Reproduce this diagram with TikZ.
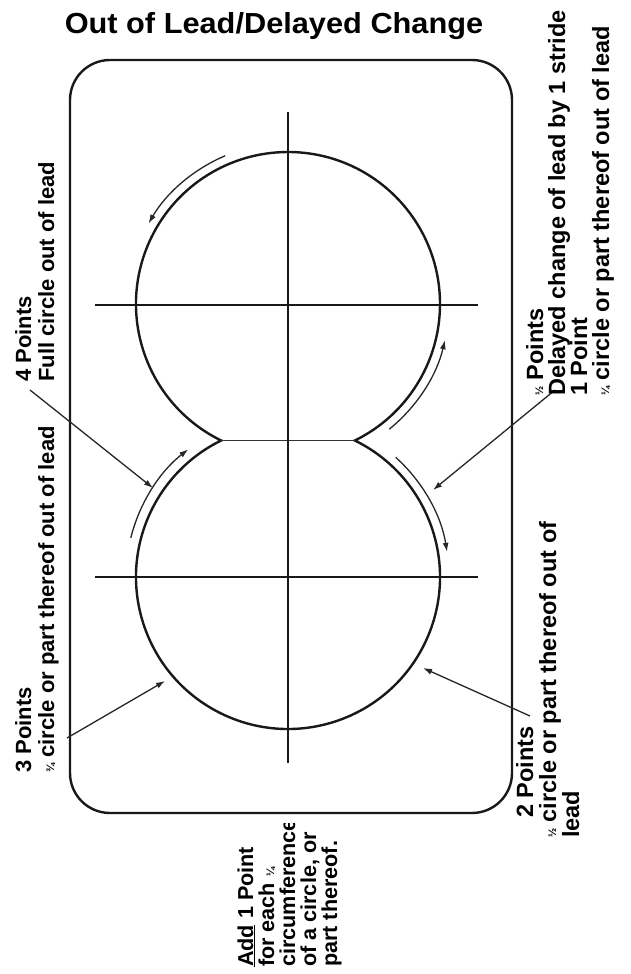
\documentclass[tikz,border=0pt]{standalone}
\usepackage{fontspec}
\setmainfont{Liberation Sans}
\usetikzlibrary{arrows.meta}
\newcommand\fr[1]{{\fontsize{11}{11}\selectfont #1}}
\begin{document}
\begin{tikzpicture}[x=1pt,y=-1pt,
  heavy/.style={line width=2.4pt,draw=black!90},
  light/.style={line width=1.3pt,draw=black!85},
  hair/.style={line width=0.9pt,draw=black!80},
  tipped/.style={-{Latex[length=9pt,width=6pt]}},
  lt/.style={rotate=90,anchor=base west,inner sep=0pt,font=\fontsize{22}{22}\selectfont\bfseries},
  rt/.style={rotate=90,anchor=base west,inner sep=0pt,font=\fontsize{23.5}{23.5}\selectfont\bfseries},
  bt/.style={rotate=90,anchor=base west,inner sep=0pt,font=\fontsize{21.6}{21.6}\selectfont\bfseries}]
\useasboundingbox (0,0) rectangle (630,974);
\fill[white] (0,0) rectangle (630,974);

% title
\node[anchor=base,inner sep=0pt,xscale=1.06,font=\fontsize{29}{29}\selectfont\bfseries] (title) at (274,34) {Out of Lead/Delayed Change};

% frame
\draw[heavy,rounded corners=40pt] (70,60) rectangle (512,813);

% circles
\coordinate (T) at (288,304);
\coordinate (B) at (288,577);
\draw[heavy] (T) ++(270:152) arc[start angle=270,end angle=423.9,radius=152]
  arc[start angle=-63.9,end angle=243.9,radius=152]
  arc[start angle=116.1,end angle=270,radius=152];
\path (T) ++(63.9:152) coordinate (cr);
\path (T) ++(116.1:152) coordinate (cl);
\draw[hair] (cl) -- (cr);

% cross lines
\coordinate (vt) at (288,112);
\coordinate (vb) at (288,763);
\coordinate (h1l) at (95,305);
\coordinate (h1r) at (478,305);
\coordinate (h2l) at (95,577);
\coordinate (h2r) at (478,577);
\draw[heavy] (vt) -- (vb);
\draw[heavy] (h1l) -- (h1r);
\draw[heavy] (h2l) -- (h2r);

% direction arrows along the circles
\draw[light,tipped] (T) ++(-113:161) arc[start angle=-113,end angle=-150,radius=161];
\draw[light,tipped] (T) ++(51:161) arc[start angle=51,end angle=13,radius=161];
\draw[light,tipped] (B) ++(-166:162) arc[start angle=-166,end angle=-128,radius=162];
\draw[light,tipped] (B) ++(-48:161) arc[start angle=-48,end angle=-9,radius=161];

% pointers
\coordinate (p4s) at (30,390);  \coordinate (p4e) at (153,488);
\coordinate (p3s) at (67,738);  \coordinate (p3e) at (165,681);
\coordinate (p2s) at (530,716); \coordinate (p2e) at (423,668);
\coordinate (p1s) at (555,390); \coordinate (p1e) at (433,490);
\draw[light,tipped] (p4s) -- (p4e);
\draw[light,tipped] (p3s) -- (p3e);
\draw[light,tipped] (p2s) -- (p2e);
\draw[light,tipped] (p1s) -- (p1e);

% left labels
\node[lt] (l4a) at (31,382) {4 Points};
\node[lt] (l4b) at (54,382) {Full circle out of lead};
\node[lt] (l3a) at (31,773) {3 Points};
\node[lt] (l3b) at (54,773) {\fr{¾} circle or part thereof out of lead};

% right labels
\node[rt] (r1a) at (543,396) {\fr{½} Points};
\node[rt] (r1b) at (565,396) {Delayed change of lead by 1 stride};
\node[rt] (r1c) at (587,396) {1 Point};
\node[rt] (r1d) at (609,396) {\fr{¼} circle or part thereof out of lead};
\node[rt] (r2a) at (533,818) {2 Points};
\node[rt] (r2b) at (556,838) {\fr{½} circle or part thereof out of};
\node[rt] (r2c) at (579,838) {lead};

% bottom note
\begin{scope}
\clip (200,823) rectangle (380,974);
\node[bt] (b1) at (253,967) {\underline{Add} 1 Point};
\node[bt] (b2) at (274,967) {for each \fr{¼}};
\node[bt] (b3) at (295,967) {circumference};
\node[bt] (b4) at (316,967) {of a circle, or};
\node[bt] (b5) at (337,967) {part thereof.};
\end{scope}
\end{tikzpicture}
\end{document}
